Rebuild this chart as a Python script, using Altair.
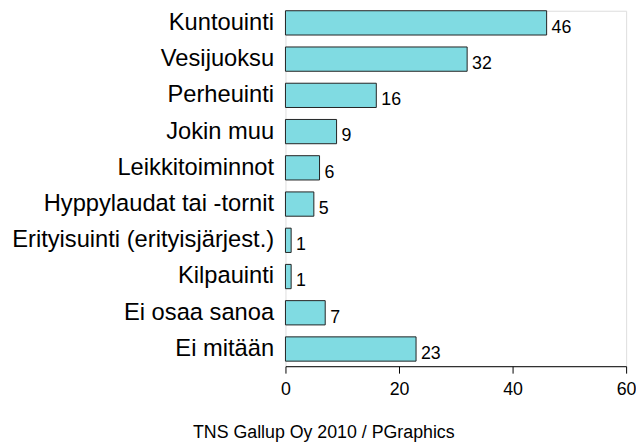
import altair as alt
import pandas as pd

categories = ["Kuntouinti", "Vesijuoksu", "Perheuinti", "Jokin muu", "Leikkitoiminnot",
              "Hyppylaudat tai -tornit", "Erityisuinti (erityisjärjest.)", "Kilpauinti",
              "Ei osaa sanoa", "Ei mitään"]
values = [46, 32, 16, 9, 6, 5, 1, 1, 7, 23]
x_ticks = [0, 20, 40, 60]
caption = "TNS Gallup Oy 2010 / PGraphics"

df = pd.DataFrame({"cat": categories, "val": values})

FONT = "Liberation Sans"

y_enc = alt.Y("cat:N", sort=categories,
              scale=alt.Scale(paddingInner=0.33, paddingOuter=0.07, align=0),
              axis=alt.Axis(title=None, domain=False, ticks=False, labelFontSize=24,
                            labelFont=FONT, labelColor="black", labelPadding=12,
                            labelLimit=400))
x_enc = alt.X("val:Q", scale=alt.Scale(domain=[0, 60], nice=False),
              axis=alt.Axis(title=None, values=x_ticks, grid=False, domainColor="black",
                            tickColor="black", tickSize=7, labelFontSize=18, labelFont=FONT,
                            labelColor="black", labelPadding=8, labelFlush=False))

bars = alt.Chart(df).mark_bar(fill="#80DBE2", stroke="#222222", strokeWidth=1).encode(
    x=x_enc, y=y_enc)

labels = alt.Chart(df).mark_text(align="left", baseline="middle", dx=5, dy=5,
                                 fontSize=18, font=FONT, color="black").encode(
    x="val:Q", y=alt.Y("cat:N", sort=categories), text="val:Q")

chart = (bars + labels).properties(
    width=345, height=360,
    title=alt.TitleParams(caption, orient="bottom", anchor="middle", frame="bounds",
                          fontSize=18, font=FONT, fontWeight="normal", color="black",
                          offset=26),
    autosize=alt.AutoSizeParams(type="none"),
    padding={"left": 281, "top": 0, "right": 10, "bottom": 77},
).configure_view(stroke=None).configure(background="white")

chart.save("out.html", embed_options={"renderer": "svg", "actions": False})
